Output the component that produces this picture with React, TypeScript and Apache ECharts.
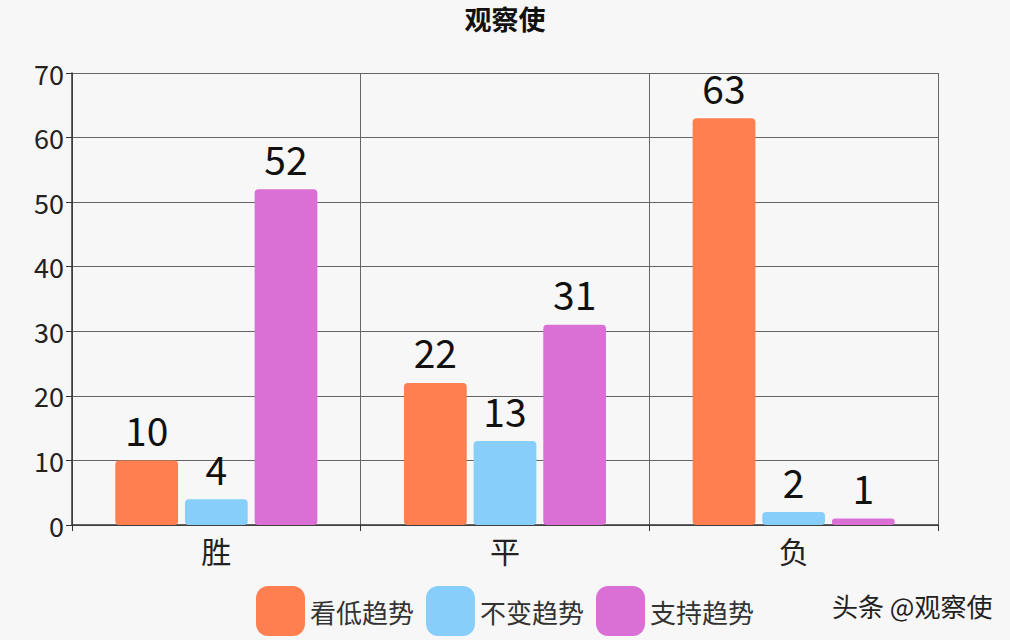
import React, { useEffect, useRef } from "react";
import * as echarts from "echarts";

const categories = ["胜", "平", "负"];
const seriesNames = ["看低趋势", "不变趋势", "支持趋势"];
const lowValues = [10, 22, 63];
const sameValues = [4, 13, 2];
const supportValues = [52, 31, 1];
const colors = ["#FF7F50", "#87CEFA", "#DA70D6"];

const FONT = '"Noto Sans CJK SC", "Noto Sans", sans-serif';

export default function App() {
  const ref = useRef<HTMLDivElement>(null);
  useEffect(() => {
    if (!ref.current) return;
    const chart = echarts.init(ref.current, undefined, { renderer: "svg" });
    const data = [lowValues, sameValues, supportValues];
    chart.setOption({
      animation: false,
      backgroundColor: "#f7f7f7",
      textStyle: { fontFamily: FONT },
      title: {
        text: "观察使",
        left: "center",
        top: 0,
        textStyle: { fontSize: 27, fontWeight: "bold", color: "#111", fontFamily: FONT },
      },
      legend: {
        data: seriesNames,
        left: 251,
        top: 581,
        itemWidth: 49,
        itemHeight: 50,
        itemGap: 12,
        icon: "roundRect",
        textStyle: { fontSize: 26, color: "#333", fontFamily: FONT },
      },
      graphic: [
        {
          type: "text",
          left: 832,
          top: 592,
          style: { text: "头条 @观察使", fontSize: 26, fill: "#222", fontFamily: FONT },
        },
      ],
      grid: { left: 72, right: 72, top: 73, bottom: 115, show: false },
      xAxis: {
        type: "category",
        data: categories,
        axisLine: { lineStyle: { color: "#333", width: 1.5 } },
        axisTick: { show: true, length: 6, lineStyle: { color: "#333" } },
        axisLabel: { fontSize: 30, color: "#222", margin: 10, fontFamily: FONT },
        splitLine: { show: true, lineStyle: { color: "#666", width: 1 } },
      },
      yAxis: {
        type: "value",
        min: 0,
        max: 70,
        interval: 10,
        axisLine: { show: true, lineStyle: { color: "#333", width: 1.5 } },
        axisTick: { show: true, length: 6, lineStyle: { color: "#333" } },
        axisLabel: { fontSize: 27, color: "#222", margin: 8, fontFamily: FONT },
        splitLine: { show: true, lineStyle: { color: "#666", width: 1 } },
      },
      series: seriesNames.map((name, i) => ({
        name,
        type: "bar",
        data: data[i],
        barCategoryGap: "30%",
        barGap: "11%",
        itemStyle: { color: colors[i], borderRadius: 4 },
        label: {
          show: true,
          position: "top",
          distance: 12,
          fontSize: 39,
          color: "#111",
          fontFamily: FONT,
        },
      })),
    });
    return () => chart.dispose();
  }, []);
  return (
    <div
      ref={ref}
      style={{ position: "fixed", left: 0, top: 0, width: 1010, height: 640 }}
    />
  );
}
